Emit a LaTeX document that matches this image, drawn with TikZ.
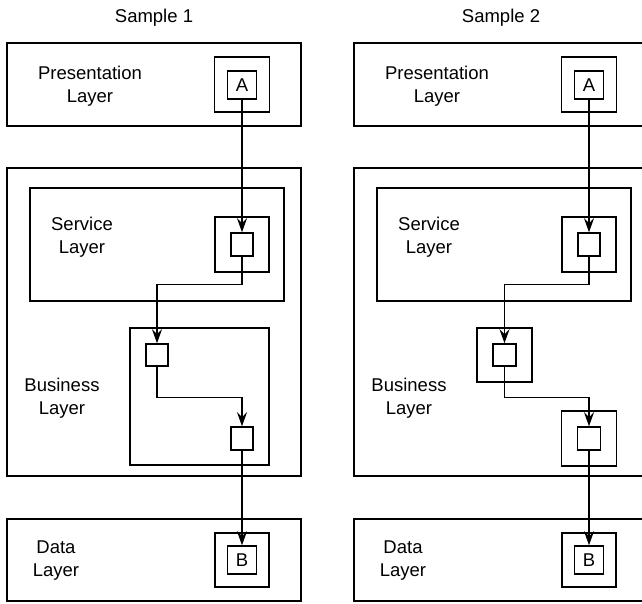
\documentclass[tikz,border=0pt]{standalone}
\usepackage{fontspec}
\setmainfont{Liberation Sans}
\usetikzlibrary{arrows.meta}
\begin{document}
\begin{tikzpicture}[x=1pt,y=-1pt,
  box/.style={draw, line width=1.5pt, rectangle, inner sep=0pt},
  lbl/.style={align=center, inner sep=0pt, font=\fontsize{18.5}{23}\selectfont},
  conn/.style={line width=1.3pt, -{Stealth[length=14pt,width=10pt,inset=5pt]}},
  plain/.style={line width=1.3pt}]
\useasboundingbox (0,0) rectangle (642,603);
\clip (0,0) rectangle (642,603);
% ---------- Sample 1 ----------
\node[lbl] (t1) at (154,18) {Sample 1};
\node[box, minimum width=294pt, minimum height=83pt] (pres1) at (154,84.5) {};
\node[lbl] (presl1) at (90,86) {Presentation\\Layer};
\node[box, minimum width=55pt, minimum height=55pt] (aout1) at (242,84.5) {};
\node[box, minimum width=29pt, minimum height=28pt, lbl] (ain1) at (242,85) {A};
\node[box, minimum width=294pt, minimum height=308pt] (big1) at (154,322) {};
\node[box, minimum width=254pt, minimum height=113pt] (svc1) at (157,244.5) {};
\node[lbl] (svcl1) at (82,237) {Service\\Layer};
\node[box, minimum width=54pt, minimum height=55pt] (sout1) at (242,244.5) {};
\node[box, minimum width=22pt, minimum height=23pt] (sin1) at (242,244.5) {};
\node[box, minimum width=139pt, minimum height=137pt] (bus1) at (199.5,396.5) {};
\node[lbl] (busl1) at (62,398) {Business\\Layer};
\node[box, minimum width=22pt, minimum height=22pt] (b1in1) at (157,355) {};
\node[box, minimum width=22pt, minimum height=23pt] (b2in1) at (242,438.5) {};
\node[box, minimum width=294pt, minimum height=82pt] (data1) at (154,560) {};
\node[lbl] (datal1) at (56,561) {Data\\Layer};
\node[box, minimum width=54pt, minimum height=54pt] (bout1) at (242,560) {};
\node[box, minimum width=29pt, minimum height=28pt, lbl] (bin1) at (242,560) {B};
\draw[conn] (ain1.south) -- (sin1.north);
\draw[conn] (sin1.south) -- ++(0,28) -| (b1in1.north);
\draw[conn] (b1in1.south) -- ++(0,31) -| (b2in1.north);
\draw[conn] (b2in1.south) -- (bin1.north);
% ---------- Sample 2 ----------
\node[lbl] (t2) at (501,18) {Sample 2};
\node[box, minimum width=294pt, minimum height=83pt] (pres2) at (501,84.5) {};
\node[lbl] (presl2) at (437,86) {Presentation\\Layer};
\node[box, minimum width=55pt, minimum height=55pt] (aout2) at (589,84.5) {};
\node[box, minimum width=29pt, minimum height=28pt, lbl] (ain2) at (589,85) {A};
\node[box, minimum width=294pt, minimum height=308pt] (big2) at (501,322) {};
\node[box, minimum width=254pt, minimum height=113pt] (svc2) at (504,244.5) {};
\node[lbl] (svcl2) at (429,237) {Service\\Layer};
\node[box, minimum width=54pt, minimum height=55pt] (sout2) at (589,244.5) {};
\node[box, minimum width=22pt, minimum height=23pt] (sin2) at (589,244.5) {};
\node[lbl] (busl2) at (409,398) {Business\\Layer};
\node[box, minimum width=55pt, minimum height=54pt] (b1out2) at (504.5,355) {};
\node[box, minimum width=23pt, minimum height=22pt] (b1in2) at (504.5,355) {};
\node[box, minimum width=55pt, minimum height=55pt] (b2out2) at (589,438.5) {};
\node[box, minimum width=23pt, minimum height=23pt] (b2in2) at (589,438.5) {};
\node[box, minimum width=294pt, minimum height=82pt] (data2) at (501,560) {};
\node[lbl] (datal2) at (403,561) {Data\\Layer};
\node[box, minimum width=54pt, minimum height=54pt] (bout2) at (589,560) {};
\node[box, minimum width=29pt, minimum height=28pt, lbl] (bin2) at (589,560) {B};
\draw[conn] (ain2.south) -- (sin2.north);
\draw[conn] (sin2.south) -- ++(0,28) -| (b1in2.north);
\draw[conn] (b1in2.south) -- ++(0,31) -| (b2in2.north);
\draw[conn] (b2in2.south) -- (bin2.north);
\end{tikzpicture}
\end{document}
